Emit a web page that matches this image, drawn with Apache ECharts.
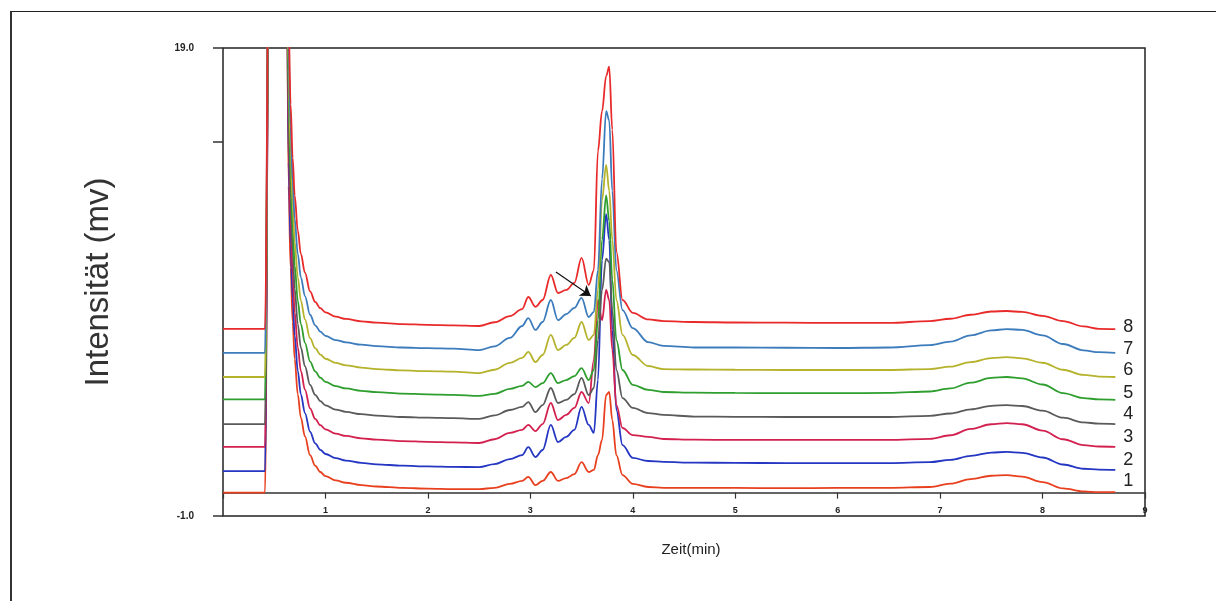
<!DOCTYPE html>
<html lang="de">
<head>
  <meta charset="UTF-8">
  <title>Chromatogramme</title>
  <script src="https://cdn.jsdelivr.net/npm/echarts@6.0.0/dist/echarts.min.js"></script>
  <style>
    body { margin: 0; background: #fff; }
    #frame { position: absolute; left: 10px; top: 11px; width: 1220px; height: 600px;
             border-top: 1.5px solid #222; border-left: 2px solid #333; pointer-events: none; }
  </style>
</head>
<body>
  <div id="main" style="width:1216px;height:601px;"></div>
  <div id="frame"></div>

  <script>
    // Zeitachse (min), gemeinsam für alle Läufe
    const zeit = [0, 0.41, 0.45, 0.62,
      0.64, 0.66, 0.68, 0.70, 0.73, 0.76, 0.80, 0.85, 0.90, 0.95, 1.0, 1.1, 1.2, 1.35, 1.5, 1.75, 2.0, 2.25,
      2.5, 2.65, 2.8, 2.92, 2.98, 3.05, 3.12, 3.2, 3.27, 3.35, 3.43, 3.5, 3.57, 3.62, 3.66, 3.70, 3.74, 3.77, 3.80, 3.84, 3.9, 4.0, 4.15, 4.3,
      4.6, 5.0, 5.5, 6.0, 6.5, 6.9,
      7.1, 7.3, 7.5, 7.65, 7.8, 8.0, 8.2, 8.4, 8.55, 8.71];

    // Intensität (mV) je Lauf
    const lauf1 = [0.0, 0.0, 25, 25,
      13.1, 9.6, 7.3, 5.7, 4.2, 3.2, 2.4, 1.6, 1.15, 0.88, 0.7, 0.52, 0.42, 0.32, 0.26, 0.2, 0.17, 0.15,
      0.15, 0.2, 0.37, 0.5, 0.67, 0.32, 0.5, 0.88, 0.5, 0.62, 0.79, 1.3, 0.88, 0.97, 1.6, 2.25, 4.17, 4.3, 3.1, 1.6, 0.75, 0.37, 0.24, 0.2,
      0.2, 0.2, 0.19, 0.2, 0.2, 0.24,
      0.38, 0.58, 0.72, 0.75, 0.68, 0.45, 0.18, 0.05, 0.02, 0.02];
    const lauf2 = [0.92, 0.92, 25, 25,
      14.1, 10.6, 8.3, 6.7, 5.2, 4.2, 3.4, 2.6, 2.1, 1.83, 1.65, 1.47, 1.37, 1.27, 1.21, 1.15, 1.12, 1.1,
      1.09, 1.22, 1.43, 1.6, 1.94, 1.52, 1.82, 2.89, 2.16, 2.38, 2.68, 3.66, 2.89, 2.55, 4.81, 9.94, 11.9, 10.8, 6.95, 3.53, 2.03, 1.48, 1.35, 1.31,
      1.28, 1.27, 1.26, 1.26, 1.26, 1.3,
      1.4, 1.57, 1.71, 1.74, 1.7, 1.5, 1.2, 1.02, 0.98, 0.97];
    const lauf3 = [1.95, 1.95, 25, 25,
      15.1, 11.6, 9.3, 7.7, 6.2, 5.2, 4.4, 3.6, 3.15, 2.88, 2.7, 2.52, 2.42, 2.32, 2.26, 2.2, 2.17, 2.15,
      2.12, 2.28, 2.55, 2.68, 2.89, 2.63, 2.93, 3.83, 3.1, 3.32, 3.62, 4.3, 3.83, 5.67, 8.23, 7.37, 8.66, 8.23, 6.09, 3.74, 2.76, 2.46, 2.38, 2.29,
      2.26, 2.25, 2.25, 2.25, 2.25, 2.3,
      2.45, 2.72, 2.92, 2.97, 2.92, 2.65, 2.28, 2.03, 1.97, 1.95];
    const lauf4 = [2.93, 2.93, 25, 25,
      16.1, 12.6, 10.3, 8.7, 7.2, 6.2, 5.4, 4.6, 4.18, 3.91, 3.73, 3.55, 3.45, 3.35, 3.29, 3.23, 3.2, 3.18,
      3.15, 3.3, 3.53, 3.66, 3.87, 3.44, 3.74, 4.47, 3.83, 3.96, 4.21, 4.9, 4.17, 4.47, 6.52, 8.66, 10.0, 9.85, 7.8, 5.24, 4.04, 3.62, 3.4, 3.32,
      3.25, 3.24, 3.23, 3.23, 3.23, 3.28,
      3.38, 3.56, 3.71, 3.74, 3.7, 3.5, 3.2, 3.0, 2.95, 2.93];
    const lauf5 = [3.98, 3.98, 25, 25,
      17.1, 13.6, 11.3, 9.7, 8.2, 7.2, 6.4, 5.6, 5.18, 4.91, 4.73, 4.55, 4.45, 4.35, 4.29, 4.23, 4.2, 4.18,
      4.13, 4.22, 4.43, 4.56, 4.73, 4.51, 4.68, 5.11, 4.68, 4.81, 4.98, 5.32, 4.81, 5.24, 7.37, 10.8, 12.7, 11.6, 9.1, 6.52, 5.24, 4.6, 4.39, 4.3,
      4.27, 4.26, 4.25, 4.25, 4.26, 4.32,
      4.45, 4.7, 4.9, 4.94, 4.88, 4.62, 4.25, 4.04, 3.98, 3.96];
    const lauf6 = [4.94, 4.94, 25, 25,
      18.1, 14.6, 12.3, 10.7, 9.2, 8.2, 7.4, 6.6, 6.17, 5.9, 5.72, 5.54, 5.44, 5.34, 5.28, 5.22, 5.19, 5.17,
      5.11, 5.25, 5.54, 5.76, 6.01, 5.58, 5.88, 6.74, 6.09, 6.31, 6.61, 7.29, 6.52, 6.74, 8.66, 12.5, 14.0, 12.9, 10.8, 8.23, 6.74, 5.88, 5.41, 5.28,
      5.26, 5.25, 5.24, 5.24, 5.24, 5.28,
      5.38, 5.58, 5.75, 5.79, 5.74, 5.55, 5.25, 5.03, 4.96, 4.94];
    const lauf7 = [5.97, 5.97, 25, 25,
      19.1, 15.6, 13.3, 11.7, 10.2, 9.2, 8.4, 7.6, 7.15, 6.88, 6.7, 6.52, 6.42, 6.32, 6.26, 6.2, 6.17, 6.15,
      6.09, 6.25, 6.61, 7.12, 7.46, 6.95, 7.29, 8.23, 7.37, 7.63, 7.89, 8.32, 7.5, 7.72, 9.5, 13.4, 16.3, 15.9, 12.9, 9.5, 7.8, 7.03, 6.43, 6.27,
      6.2, 6.2, 6.19, 6.18, 6.2, 6.3,
      6.45, 6.72, 6.93, 6.99, 6.95, 6.72, 6.35, 6.08, 6.0, 5.97];
    const lauf8 = [7.0, 7.0, 25, 25,
      20.1, 16.6, 14.3, 12.7, 11.2, 10.2, 9.4, 8.6, 8.15, 7.88, 7.7, 7.52, 7.42, 7.32, 7.26, 7.2, 7.17, 7.15,
      7.12, 7.28, 7.54, 7.84, 8.36, 7.94, 8.23, 9.3, 8.53, 8.66, 8.96, 10.03, 8.87, 9.5, 14.6, 16.3, 17.8, 18.2, 15.5, 10.3, 8.23, 7.68, 7.4, 7.33,
      7.29, 7.27, 7.26, 7.25, 7.25, 7.33,
      7.43, 7.6, 7.74, 7.76, 7.72, 7.55, 7.33, 7.1, 7.0, 6.99];

    const namen = ['1', '2', '3', '4', '5', '6', '7', '8'];
    const laeufe = [lauf1, lauf2, lauf3, lauf4, lauf5, lauf6, lauf7, lauf8];
    const farben = ['#e8401f', '#2436c2', '#d3214f', '#5a5a5a', '#2e9e2e', '#b5b22c', '#3c7cbc', '#e82a2a'];
    const labelVersatz = [-11, -10, -10, -10, -7, -7, -4, -2];

    // Pfeil (Annotation)
    const pfeilVon = [3.25, 9.43];
    const pfeilNach = [3.59, 8.4];

    const myChart = echarts.init(document.getElementById('main'));

    const series = laeufe.map(function (werte, i) {
      const s = {
        name: namen[i],
        type: 'line',
        data: zeit.map(function (t, k) { return [t, werte[k]]; }),
        showSymbol: false,
        smooth: 0.35,
        smoothMonotone: 'x',
        lineStyle: { color: farben[i], width: 1.8 },
        itemStyle: { color: farben[i] },
        endLabel: {
          show: true,
          formatter: '{a}',
          distance: 8,
          offset: [0, labelVersatz[i]],
          color: '#222',
          fontSize: 18,
          fontFamily: 'Liberation Sans, Arial, sans-serif'
        },
        xAxisIndex: 0,
        animation: false
      };
      if (i === 7) {
        s.markLine = {
          silent: true,
          symbol: ['none', 'arrow'],
          symbolSize: 10,
          label: { show: false },
          lineStyle: { color: '#111', width: 1.2, type: 'solid' },
          data: [[{ coord: pfeilVon }, { coord: pfeilNach }]]
        };
      }
      return s;
    });

    const option = {
      backgroundColor: '#fff',
      animation: false,
      grid: {
        left: 223, top: 48, right: 71, bottom: 85,
        show: true, borderColor: '#222', borderWidth: 1.5
      },
      xAxis: [{
        type: 'value', min: 0, max: 9, interval: 1,
        position: 'bottom',
        axisLine: { show: false, onZero: false },
        axisTick: { show: false },
        splitLine: { show: false },
        axisLabel: {
          inside: true, margin: 1, color: '#222', fontSize: 9, fontWeight: 'bold',
          formatter: function (v) { return v === 0 ? '' : String(v); }
        },
        name: 'Zeit(min)',
        nameLocation: 'middle',
        nameGap: 26,
        nameTextStyle: { color: '#222', fontSize: 15, fontFamily: 'Liberation Sans, Arial, sans-serif', padding: [0, 0, 0, 14] }
      }, {
        type: 'value', min: 0, max: 9, interval: 1,
        position: 'bottom',
        axisLine: { show: true, onZero: true, lineStyle: { color: '#333', width: 1.5 } },
        axisTick: { show: true, length: 6, lineStyle: { color: '#333', width: 1.2 } },
        axisLabel: { show: false },
        splitLine: { show: false }
      }],
      yAxis: {
        type: 'value', min: -1, max: 19,
        axisLine: { show: false },
        splitLine: { show: false },
        axisTick: { show: true, customValues: [-1, 15, 19], length: 10, lineStyle: { color: '#333', width: 1.5 } },
        axisLabel: {
          customValues: [-1, 19], margin: 29, color: '#222', fontSize: 10, fontWeight: 'bold',
          formatter: function (v) { return v.toFixed(1); }
        },
        name: 'Intensität (mv)',
        nameLocation: 'middle',
        nameGap: 108,
        nameTextStyle: { color: '#333', fontSize: 33, fontFamily: 'Liberation Sans, Arial, sans-serif' }
      },
      series: series
    };

    myChart.setOption(option);
  </script>
</body>
</html>
